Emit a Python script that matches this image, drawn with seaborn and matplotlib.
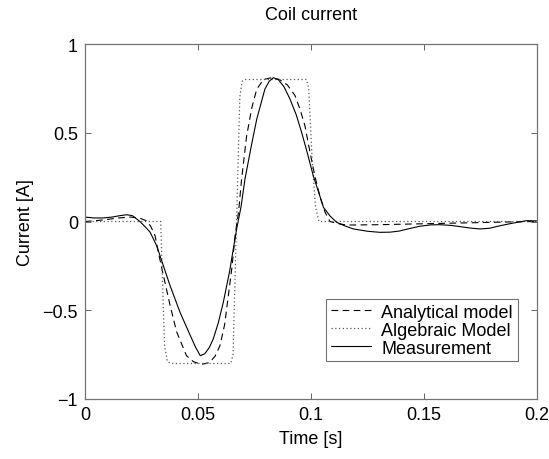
import matplotlib
matplotlib.use("Agg")
import matplotlib.pyplot as plt
import seaborn as sns
import pandas as pd

# Analytical model (dashed)
ana_t = [0.0, 0.005, 0.01, 0.015, 0.02, 0.024, 0.027, 0.029, 0.031, 0.0324, 0.0347, 0.0362, 0.0376, 0.0405, 0.0449,
         0.048, 0.0516, 0.055, 0.0575, 0.0597, 0.0618, 0.0634, 0.065, 0.0664, 0.068, 0.0693, 0.0715,
         0.0738, 0.076, 0.079, 0.0825, 0.086, 0.0895, 0.0929, 0.0952, 0.0973, 0.0988, 0.1002, 0.1020, 0.1040,
         0.1062, 0.1084, 0.112, 0.1158, 0.13, 0.145, 0.16, 0.175, 0.19, 0.2]
ana_y = [0.0, 0.005, 0.012, 0.02, 0.025, 0.02, 0.005, -0.025, -0.08, -0.17, -0.305, -0.39, -0.47, -0.62, -0.756,
         -0.79, -0.805, -0.795, -0.76, -0.70, -0.58, -0.42, -0.26, -0.08, 0.06, 0.24, 0.48,
         0.64, 0.746, 0.80, 0.81, 0.80, 0.77, 0.71, 0.63, 0.54, 0.44, 0.35, 0.24, 0.14,
         0.053, 0.0, -0.012, -0.02, -0.018, -0.014, -0.01, -0.006, -0.002, 0.0]

# Algebraic model (dotted)
alg_t = [0.0, 0.0335, 0.0342, 0.0352, 0.0365, 0.0380, 0.0645, 0.0655, 0.0685, 0.0695, 0.0710, 0.0980, 0.0990,
         0.1005, 0.1020, 0.1035, 0.2]
alg_y = [0.0, 0.0, -0.3, -0.70, -0.79, -0.80, -0.80, -0.75, 0.70, 0.79, 0.80, 0.80, 0.75, 0.35, 0.08, 0.0, 0.0]

# Measurement (solid)
meas_t = [0.0, 0.004, 0.008, 0.012, 0.015, 0.0184, 0.021, 0.0243, 0.0265, 0.0288, 0.0317, 0.0347, 0.0376,
          0.042, 0.0465, 0.049, 0.051, 0.053, 0.055, 0.0568, 0.059, 0.0612, 0.064, 0.0671, 0.069,
          0.0708, 0.0735, 0.076, 0.0796, 0.0815, 0.0833, 0.0855, 0.0880, 0.0907, 0.0935, 0.0959, 0.0985,
          0.101, 0.1035, 0.1055, 0.1085, 0.1114, 0.115, 0.1188, 0.125, 0.1305, 0.135, 0.139, 0.1435, 0.148,
          0.153, 0.157, 0.162, 0.166, 0.1705, 0.1748, 0.179, 0.1836, 0.189, 0.1955, 0.2]
meas_y = [0.025, 0.02, 0.02, 0.025, 0.032, 0.038, 0.033, 0.0, -0.028, -0.06, -0.136, -0.25, -0.36,
          -0.51, -0.64, -0.71, -0.756, -0.745, -0.71, -0.66, -0.57, -0.455, -0.28, -0.042, 0.08,
          0.24, 0.42, 0.577, 0.746, 0.79, 0.81, 0.80, 0.76, 0.69, 0.60, 0.50, 0.38,
          0.258, 0.16, 0.08, 0.03, -0.005, -0.025, -0.042, -0.055, -0.061, -0.06, -0.054, -0.04, -0.027,
          -0.019, -0.018, -0.022, -0.029, -0.037, -0.042, -0.038, -0.024, -0.01, 0.005, 0.003]

x_ticks = [0, 0.05, 0.1, 0.15, 0.2]
x_ticklabels = ["0", "0.05", "0.1", "0.15", "0.2"]
y_ticks = [-1, -0.5, 0, 0.5, 1]
y_ticklabels = ["\u22121", "\u22120.5", "0", "0.5", "1"]

df = pd.concat([
    pd.DataFrame({"t": ana_t, "i": ana_y, "series": "Analytical model"}),
    pd.DataFrame({"t": alg_t, "i": alg_y, "series": "Algebraic Model"}),
    pd.DataFrame({"t": meas_t, "i": meas_y, "series": "Measurement"}),
])

sns.set_style("white")
plt.rcParams["font.family"] = ["Liberation Sans", "DejaVu Sans"]
plt.rcParams["font.size"] = 13
plt.rcParams["text.color"] = "black"
plt.rcParams["axes.labelcolor"] = "black"
plt.rcParams["xtick.color"] = "black"
plt.rcParams["ytick.color"] = "black"

fig = plt.figure(figsize=(5.49, 4.60), dpi=100)
ax = fig.add_axes([85 / 549, 60 / 460, 452 / 549, 355 / 460])

styles = {"Analytical model": (0.8, (6, 4), "black"),
          "Algebraic Model": (0.9, (1, 2), "0.35"),
          "Measurement": (0.8, (None, None), "black")}
for name in ["Analytical model", "Algebraic Model", "Measurement"]:
    lw, dash, col = styles[name]
    sub = df[df["series"] == name]
    sns.lineplot(data=sub, x="t", y="i", ax=ax, color=col, linewidth=lw, label=name,
                 sort=False, estimator=None)
    line = ax.get_lines()[-1]
    if dash[0] is None:
        line.set_linestyle("-")
    else:
        line.set_dashes(dash)

ax.set_xlim(0, 0.2)
ax.set_ylim(-1, 1)
ax.set_xticks(x_ticks)
ax.set_xticklabels(x_ticklabels)
ax.set_yticks(y_ticks)
ax.set_yticklabels(y_ticklabels)
ax.tick_params(direction="in", length=4, width=0.6, color="0.3", top=True, right=True,
               bottom=True, left=True, labelsize=13, pad=5, labelcolor="black")
for s in ax.spines.values():
    s.set_visible(True)
    s.set_color("0.45")
    s.set_linewidth(0.9)

ax.set_xlabel("Time [s]", fontsize=13, labelpad=5)
ax.set_ylabel("Current [A]", fontsize=13, labelpad=6)
ax.set_title("Coil current", fontsize=13, pad=18)

leg = ax.legend(loc="lower right", bbox_to_anchor=(0.957, 0.107), frameon=True, fancybox=False,
                fontsize=13, handlelength=2.2, handletextpad=0.6, borderpad=0.25, labelspacing=0.05,
                borderaxespad=0)
leg.get_frame().set_edgecolor("0.3")
leg.get_frame().set_linewidth(0.8)

fig.savefig("out.png", dpi=100)
